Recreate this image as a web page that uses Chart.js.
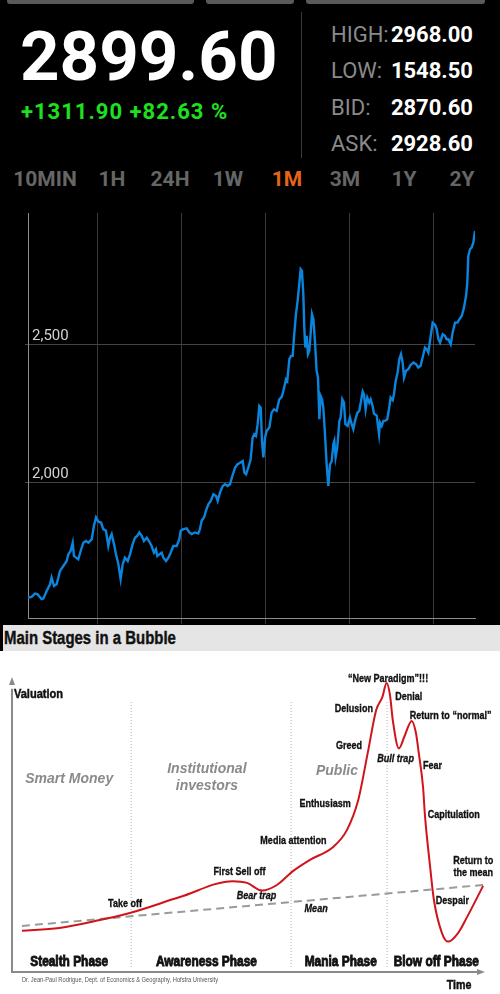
<!DOCTYPE html>
<html>
<head>
<meta charset="utf-8">
<script src="https://cdn.jsdelivr.net/npm/chart.js@4/dist/chart.umd.min.js"></script>
<style>
  body { margin: 0; width: 500px; height: 994px; background: #000; position: relative; overflow: hidden; font-family: Roboto, sans-serif }
  .tab { position: absolute; top: 0; height: 4px; background: #5a5a5a; border-radius: 0 0 3px 3px }
  .t { position: absolute; line-height: 1; white-space: nowrap }
  .lbl { left: 331px; font-size: 22px; color: #8a8a8a }
  .val { right: 27px; font-size: 22px; font-weight: bold; color: #fff; text-align: right }
  .tf { top: 168.5px; width: 80px; text-align: center; font-size: 21px; font-weight: bold; color: #666 }
  #bar { position: absolute; left: 0; top: 625px; width: 500px; height: 26px; box-sizing: border-box; border-left: 3px solid #000;
         background: #e5e5e5; font: bold 18px 'Liberation Sans', Arial, sans-serif; line-height: 1; padding: 4px 0 0 1px; color: #111 }
  #bar span { display: inline-block; transform: scaleX(0.83); transform-origin: left center; -webkit-text-stroke: 0.4px #111 }
</style>
</head>
<body>
<div class="tab" style="left:7px;width:187px"></div>
<div class="tab" style="left:206px;width:88px"></div>
<div class="tab" style="left:306px;width:179px"></div>

<div class="t" style="left:20px;top:22px;font-size:69px;font-weight:bold;color:#fff">2899.60</div>
<div class="t" style="left:21px;top:100.5px;font-size:22px;font-weight:bold;color:#1fe01f;letter-spacing:1px">+1311.90 +82.63 %</div>
<div style="position:absolute;left:301px;top:12px;width:1px;height:146px;background:#3a3a3a"></div>

<div class="t lbl" style="top:23.5px">HIGH:</div>
<div class="t lbl" style="top:60px">LOW:</div>
<div class="t lbl" style="top:96.5px">BID:</div>
<div class="t lbl" style="top:133px">ASK:</div>
<div class="t val" style="top:23.5px">2968.00</div>
<div class="t val" style="top:60px">1548.50</div>
<div class="t val" style="top:96.5px">2870.60</div>
<div class="t val" style="top:133px">2928.60</div>

<div class="t tf" style="left:5px">10MIN</div>
<div class="t tf" style="left:72px">1H</div>
<div class="t tf" style="left:130px">24H</div>
<div class="t tf" style="left:188px">1W</div>
<div class="t tf" style="left:247px;color:#e4641c">1M</div>
<div class="t tf" style="left:305px">3M</div>
<div class="t tf" style="left:364px">1Y</div>
<div class="t tf" style="left:422px">2Y</div>

<div style="position:absolute;left:0;top:200px;width:500px;height:431px"><canvas id="priceChart"></canvas></div>
<div id="bar"><span>Main Stages in a Bubble</span></div>
<div style="position:absolute;left:0;top:651px;width:500px;height:343px;background:#fff"><canvas id="bubbleChart"></canvas></div>

<script>
// precio, 1M
const priceDays = [0.00,0.26,0.50,0.67,0.98,1.10,1.34,1.58,1.69,1.86,
  2.05,2.29,2.53,2.77,2.89,3.05,3.20,3.29,3.44,3.60,
  3.77,3.96,4.15,4.32,4.56,4.72,4.87,5.04,5.23,5.39,
  5.58,5.75,5.87,5.99,6.16,6.30,6.47,6.63,6.78,6.94,
  7.14,7.30,7.49,7.66,7.83,7.97,8.14,8.30,8.50,8.66,
  8.85,9.02,9.16,9.26,9.40,9.57,9.69,9.88,10.05,10.21,
  10.40,10.64,10.83,10.93,11.12,11.36,11.55,11.72,11.95,12.19,
  12.31,12.43,12.60,12.74,12.91,13.08,13.27,13.46,13.58,13.74,
  13.94,14.10,14.29,14.46,14.63,14.82,14.99,15.18,15.37,15.49,
  15.61,15.77,15.94,16.08,16.20,16.32,16.44,16.56,16.66,16.75,
  16.85,16.97,17.09,17.28,17.44,17.61,17.80,17.99,18.16,18.28,
  18.47,18.56,18.71,18.83,18.95,19.04,19.18,19.30,19.42,19.52,
  19.61,19.71,19.78,19.85,19.95,20.04,20.14,20.23,20.33,20.43,
  20.54,20.66,20.76,20.86,20.95,21.05,21.14,21.26,21.38,21.50,
  21.62,21.74,21.86,21.93,22.02,22.14,22.29,22.38,22.50,22.62,
  22.72,22.88,23.05,23.17,23.29,23.41,23.58,23.72,23.84,23.96,
  24.05,24.17,24.29,24.43,24.53,24.67,24.77,24.96,25.13,25.20,
  25.32,25.44,25.56,25.72,25.84,25.96,26.11,26.20,26.32,26.46,
  26.58,26.70,26.82,26.92,27.06,27.23,27.39,27.59,27.78,27.94,
  28.11,28.25,28.42,28.54,28.66,28.78,28.97,29.14,29.26,29.38,
  29.50,29.69,29.85,29.97,30.09,30.26,30.40,30.57,30.74,30.88,
  31.05,31.21,31.36,31.45,31.52,31.64,31.76,31.88,32.00]
const priceValues = [1585,1587,1599,1597,1579,1581,1609,1633,1657,1627,
  1633,1681,1699,1717,1741,1753,1783,1735,1729,1723,
  1753,1783,1789,1783,1795,1844,1874,1859,1856,1832,
  1826,1771,1801,1814,1777,1741,1705,1651,1705,1729,
  1717,1741,1777,1801,1808,1820,1808,1789,1801,1789,
  1771,1747,1759,1735,1741,1747,1729,1717,1729,1747,
  1771,1771,1795,1826,1832,1835,1820,1814,1820,1816,
  1832,1862,1874,1898,1922,1934,1958,1952,1934,1964,
  1988,1994,1988,1994,2024,2054,2066,2072,2078,2036,
  2030,2054,2084,2163,2175,2169,2211,2277,2271,2151,
  2091,2163,2187,2199,2253,2265,2259,2301,2310,2331,
  2373,2367,2446,2458,2458,2524,2608,2656,2717,2771,
  2765,2681,2560,2488,2530,2464,2476,2536,2608,2590,
  2512,2404,2380,2229,2313,2301,2271,2175,2066,1988,
  2066,2078,2139,2151,2091,2127,2223,2235,2301,2289,
  2211,2205,2235,2211,2193,2223,2253,2259,2295,2329,
  2319,2265,2307,2289,2301,2277,2249,2243,2175,2217,
  2205,2223,2223,2229,2265,2307,2298,2319,2367,2398,
  2446,2464,2434,2380,2404,2410,2425,2434,2428,2416,
  2422,2452,2488,2482,2470,2512,2578,2570,2554,2518,
  2506,2536,2530,2518,2518,2500,2542,2578,2578,2590,
  2602,2632,2675,2723,2819,2843,2849,2867,2909]
const priceTicks = [2000, 2500]
const dayTicks = [5, 11, 17, 23, 29]

// curva de la burbuja (tiempo 0-100, valoracion 0-100)
const bubbleTime = [2.1,10,18.6,24.9,35.5,46.7,49.7,52.9,56.0,59.4,63.0,67.9,70.8,73.2,75.2,77.0,78.3,79.2,79.9,80.5,81.8,83.0,84.5,85.4,86.0,86.9,87.3,88.4,89.2,90.9,92.2,94.3,96.2,99.6]
const bubbleValue = [14.0,14.9,17.6,20.0,25.4,30.8,30.2,27.6,29.5,34.2,38.0,42.4,48.1,58.3,74.2,88.8,93.2,98.0,94.0,85.4,75.8,80.0,85.1,81.0,74.2,62.7,53.2,35.6,24.4,13.2,10.3,13.2,18.6,29.2]
const meanTime = [2.1, 99.6]
const meanValue = [15.6, 29.5]
const phaseBounds = [25.2, 59.0, 79.3]

const phaseText = ['Stealth Phase', 'Awareness Phase', 'Mania Phase', 'Blow off Phase']
const phaseMid = [12.1, 41.1, 69.5, 89.7]
const crowdText = ['Smart Money', 'Institutional', 'investors', 'Public']
const crowdX = [12.1, 41.2, 41.2, 68.7]
const crowdY = [65.4, 68.8, 63.1, 68.1]
const noteText = ['“New Paradigm”!!!', 'Denial', 'Delusion', 'Return to “normal”', 'Greed', 'Bull trap', 'Fear', 'Enthusiasm',
  'Capitulation', 'Media attention', 'Return to', 'the mean', 'First Sell off', 'Bear trap', 'Take off', 'Despair', 'Mean']
const noteX = [79.5, 81.0, 76.3, 84.1, 74.0, 81.1, 86.9, 66.2, 87.9, 59.5, 97.5, 97.5, 48.1, 51.7, 23.9, 93.1, 64.3]
const noteY = [99.3, 93.2, 89.2, 86.8, 76.6, 72.2, 69.8, 56.9, 53.2, 44.4, 37.6, 33.6, 33.9, 25.8, 23.1, 24.1, 21.4]
const noteAlign = ['center', 'left', 'right', 'left', 'right', 'center', 'left', 'center', 'left', 'center', 'center', 'center', 'center', 'center', 'center', 'center', 'center']
const noteItalic = ['Bull trap', 'Bear trap', 'Mean']

const sans = '"Liberation Sans", Arial, sans-serif'

// texto estrecho: Arial comprimido a lo ancho, con trazo opcional para engordarlo
const narrowText = (ctx, text, px, py, align, heavy) => {
  ctx.save()
  ctx.translate(px, py)
  ctx.scale(0.82, 1)
  ctx.textAlign = align
  ctx.fillText(text, 0, 0)
  if (heavy) {
    ctx.strokeStyle = ctx.fillStyle
    ctx.lineWidth = heavy
    ctx.strokeText(text, 0, 0)
  }
  ctx.restore()
}

new Chart(document.getElementById('priceChart'), {
  type: 'line',
  data: {
    datasets: [{
      data: priceDays.map((d, i) => ({ x: d, y: priceValues[i] })),
      borderColor: '#0a84dc',
      borderWidth: 2.4,
      pointRadius: 0,
      tension: 0,
    }],
  },
  options: {
    animation: false,
    responsive: true,
    maintainAspectRatio: false,
    layout: { padding: { left: 28, right: 25, top: 12, bottom: 0 } },
    plugins: { legend: { display: false }, tooltip: { enabled: false } },
    scales: {
      x: {
        type: 'linear',
        min: 0,
        max: 32,
        afterBuildTicks: (scale) => { scale.ticks = dayTicks.map((v) => ({ value: v })) },
        ticks: { display: false },
        grid: { color: '#3a3a3a', tickLength: 6 },
        border: { color: '#8c8c8c' },
      },
      y: {
        min: 1511,
        max: 2974,
        afterBuildTicks: (scale) => { scale.ticks = priceTicks.map((v) => ({ value: v })) },
        afterFit: (scale) => { scale.width = 0 },
        ticks: {
          mirror: true,
          padding: 4,
          labelOffset: -8,
          color: '#d2d2d2',
          font: { family: 'Roboto', size: 15 },
          callback: (v) => v.toLocaleString('en-US'),
        },
        grid: { color: '#444', tickLength: 3 },
        border: { color: '#8c8c8c' },
      },
    },
  },
})

const bubbleText = {
  id: 'bubbleText',
  beforeDatasetsDraw(chart) {
    const { ctx, scales: { x, y } } = chart
    ctx.save()
    ctx.strokeStyle = '#8a8a8a'
    ctx.fillStyle = '#8a8a8a'
    ctx.lineWidth = 2
    ctx.beginPath()
    ctx.moveTo(x.getPixelForValue(0), y.getPixelForValue(96))
    ctx.lineTo(x.getPixelForValue(0), y.getPixelForValue(0))
    ctx.lineTo(x.getPixelForValue(98.5), y.getPixelForValue(0))
    ctx.stroke()
    // puntas de flecha
    const x0 = x.getPixelForValue(0)
    const yTop = y.getPixelForValue(100)
    ctx.beginPath()
    ctx.moveTo(x0, yTop)
    ctx.lineTo(x0 - 3, yTop + 8)
    ctx.lineTo(x0 + 3, yTop + 8)
    ctx.fill()
    const xEnd = x.getPixelForValue(100)
    const y0 = y.getPixelForValue(0)
    ctx.beginPath()
    ctx.moveTo(xEnd, y0)
    ctx.lineTo(xEnd - 8, y0 - 3)
    ctx.lineTo(xEnd - 8, y0 + 3)
    ctx.fill()
    ctx.restore()
  },
  afterDatasetsDraw(chart) {
    const { ctx, scales: { x, y } } = chart
    ctx.save()
    ctx.textBaseline = 'middle'

    ctx.fillStyle = '#8a8a8a'
    ctx.textAlign = 'center'
    ctx.font = 'italic bold 14px ' + sans
    crowdText.forEach((t, i) => {
      ctx.fillText(t, x.getPixelForValue(crowdX[i]), y.getPixelForValue(crowdY[i]))
    })

    ctx.fillStyle = '#111'
    noteText.forEach((t, i) => {
      ctx.font = (noteItalic.includes(t) ? 'italic ' : '') + 'bold 11px ' + sans
      narrowText(ctx, t, x.getPixelForValue(noteX[i]), y.getPixelForValue(noteY[i]), noteAlign[i], 0.35)
    })

    ctx.font = 'bold 14.5px ' + sans
    phaseText.forEach((t, i) => {
      narrowText(ctx, t, x.getPixelForValue(phaseMid[i]), y.getPixelForValue(3.4), 'center', 0.9)
    })

    ctx.font = 'bold 13.5px ' + sans
    narrowText(ctx, 'Valuation', x.getPixelForValue(0.4), y.getPixelForValue(94.2), 'left', 0.5)
    ctx.font = 'bold 13px ' + sans
    narrowText(ctx, 'Time', x.getPixelForValue(94.5), y.getPixelForValue(-4.4), 'center', 0.5)

    ctx.fillStyle = '#555'
    ctx.font = '7px ' + sans
    narrowText(ctx, 'Dr. Jean-Paul Rodrigue, Dept. of Economics & Geography, Hofstra University', x.getPixelForValue(2.1), y.getPixelForValue(-2.7), 'left')
    ctx.restore()
  },
}

new Chart(document.getElementById('bubbleChart'), {
  type: 'line',
  data: {
    datasets: [
      {
        data: bubbleTime.map((t, i) => ({ x: t, y: bubbleValue[i] })),
        borderColor: '#d0141c',
        borderWidth: 2,
        pointRadius: 0,
        cubicInterpolationMode: 'monotone',
      },
      {
        data: meanTime.map((t, i) => ({ x: t, y: meanValue[i] })),
        borderColor: '#9a9a9a',
        borderWidth: 2,
        borderDash: [8, 5],
        pointRadius: 0,
      },
      ...phaseBounds.map((b) => ({
        data: [{ x: b, y: 1.7 }, { x: b, y: 92.2 }],
        borderColor: '#b0b0b0',
        borderWidth: 1,
        borderDash: [1, 2],
        pointRadius: 0,
      })),
    ],
  },
  options: {
    animation: false,
    responsive: true,
    maintainAspectRatio: false,
    layout: { padding: { left: 12, right: 15, top: 26, bottom: 22 } },
    plugins: { legend: { display: false }, tooltip: { enabled: false } },
    scales: {
      x: { type: 'linear', min: 0, max: 100, display: false },
      y: { min: 0, max: 100, display: false },
    },
  },
  plugins: [bubbleText],
})
</script>
</body>
</html>
